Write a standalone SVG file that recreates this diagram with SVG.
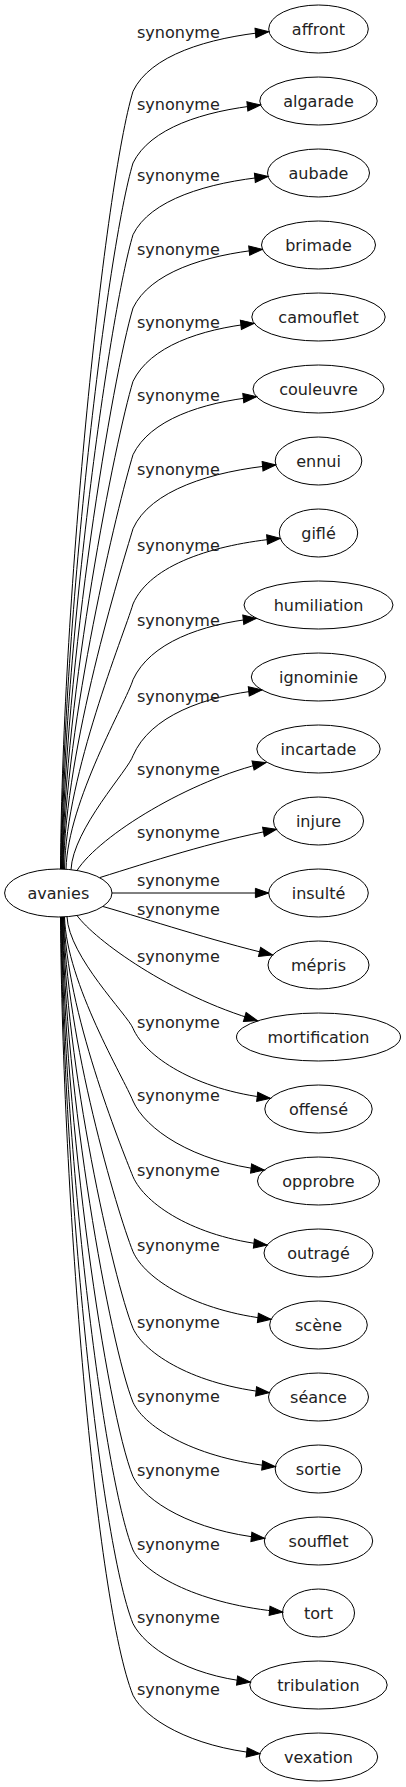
<svg xmlns="http://www.w3.org/2000/svg" width="406" height="1787" viewBox="0 0 406 1787">
<style>
.n ellipse{fill:none;stroke:#000;stroke-width:1}
.n text{font-family:"DejaVu Sans",sans-serif;font-size:16px;fill:#222;text-anchor:middle}
.e path{fill:none;stroke:#000;stroke-width:1;marker-end:url(#ah)}
.e path.l{marker-end:none}
.lb text{font-family:"DejaVu Sans",sans-serif;font-size:16px;fill:#222;text-anchor:middle}
</style>
<defs>
<marker id="ah" markerUnits="userSpaceOnUse" viewBox="-1 -1 16 12" markerWidth="16" markerHeight="12" refX="13.3" refY="5" orient="auto">
<path d="M0,0.33 L13.3,5 L0,9.67 z" fill="#000" stroke="#000" stroke-width="1"/>
</marker>
</defs>
<rect width="406" height="1787" fill="#fff"/>
<g id="connectors" class="e">
<path d="M60.5,869 C62.5,589 105,184.6 133,91.3 C150,55.5 207.6,37.7 268.7,31.7"/>
<path d="M61,869 C63,614.8 107.6,247.7 133,163 C150,128.2 203.2,111 260.6,105"/>
<path d="M61.5,869 C63.5,640.7 110.2,310.8 133,234.7 C150,199.8 207.3,182.5 268.1,176.5"/>
<path d="M62,869 C64,667 112.8,375.3 133,308 C150,272.8 204.1,255.3 262.4,249.3"/>
<path d="M62.5,869 C64.5,693.4 115.4,439.8 133,381.3 C150,346.5 199.6,329.3 254.1,323.3"/>
<path d="M63,869 C65,719.9 118.1,504.4 133,454.7 C150,419.9 200.9,402.7 256.5,396.7"/>
<path d="M63.5,869 C65.5,746.5 120.8,569.5 133,528.7 C150,490.5 211.6,471 275.8,465"/>
<path d="M64.5,869 C66.5,773.6 123.5,635.8 133,604 C150,564.6 214,544.3 280.3,538.3"/>
<path d="M66,869 C68,800.9 126.2,702.4 133,679.7 C150,642.9 200.9,624.3 256.5,618.3"/>
<path d="M71,869.7 C73,828.7 128.9,769.4 133,755.7 C150,716.3 203.9,696 262,690"/>
<path d="M77,870.5 C100,835 190,780 266,762.5"/>
<path d="M100,877.5 C150,862 210,842 276.5,829.3"/>
<path d="M112,893 L268.7,893"/>
<path d="M103,906.5 C150,920 210,940 272.5,955"/>
<path d="M77,915.5 C95,940 170,995 257.5,1020.7"/>
<path d="M67,916.7 C69,956.9 127.6,1014.9 133,1028.3 C145,1056.3 194.8,1089.9 270.4,1098.3"/>
<path d="M64.5,917 C66.5,983.2 124.2,1078.9 133,1101 C145,1128.6 192.1,1161.7 264.3,1170"/>
<path d="M64,917 C66,1010.5 120.5,1145.5 133,1176.7 C145,1204 193.3,1236.8 267.1,1245"/>
<path d="M63.5,917 C65.5,1037.5 116.9,1211.5 133,1251.7 C145,1278.7 195.1,1311.2 271.1,1319.3"/>
<path d="M63,917 C65,1065.1 113.2,1278.9 133,1328.3 C145,1354.1 194.3,1385 269.3,1392.7"/>
<path d="M62.5,917 C64.5,1091.7 109.7,1344.1 133,1402.3 C145,1428.1 197.1,1459 275.4,1466.7"/>
<path d="M62,917 C64,1118.5 106.1,1409.5 133,1476.7 C145,1501.3 192.2,1530.9 264.6,1538.3"/>
<path d="M61.5,917 C63.5,1144.9 102.6,1474 133,1550 C145,1574.8 200.4,1604.6 282.8,1612"/>
<path d="M61,917 C63,1171.4 99.1,1538.9 133,1623.7 C145,1647 185.8,1675 250.3,1682"/>
<path d="M60.5,917 C62.5,1197.2 95.6,1601.9 133,1695.3 C145,1718.7 190,1746.7 259.9,1753.7"/>
</g>
<g id="edge-labels" class="lb">
<text x="178.4" y="37.8">synonyme</text>
<text x="178.4" y="109.5">synonyme</text>
<text x="178.4" y="181.2">synonyme</text>
<text x="178.4" y="254.5">synonyme</text>
<text x="178.4" y="327.8">synonyme</text>
<text x="178.4" y="401.2">synonyme</text>
<text x="178.4" y="475.2">synonyme</text>
<text x="178.4" y="550.5">synonyme</text>
<text x="178.4" y="626.2">synonyme</text>
<text x="178.4" y="702.2">synonyme</text>
<text x="178.4" y="774.5">synonyme</text>
<text x="178.4" y="837.8">synonyme</text>
<text x="178.4" y="886.2">synonyme</text>
<text x="178.4" y="914.5">synonyme</text>
<text x="178.4" y="962.2">synonyme</text>
<text x="178.4" y="1027.8">synonyme</text>
<text x="178.4" y="1100.5">synonyme</text>
<text x="178.4" y="1176.2">synonyme</text>
<text x="178.4" y="1251.2">synonyme</text>
<text x="178.4" y="1327.8">synonyme</text>
<text x="178.4" y="1401.8">synonyme</text>
<text x="178.4" y="1476.2">synonyme</text>
<text x="178.4" y="1549.5">synonyme</text>
<text x="178.4" y="1623.2">synonyme</text>
<text x="178.4" y="1694.8">synonyme</text>
</g>
<g id="avanies" class="n"><ellipse cx="58.3" cy="893" rx="53.7" ry="24"/><text x="58.3" y="898.5">avanies</text></g>
<g id="affront" class="n"><ellipse cx="318.5" cy="29" rx="49.8" ry="24"/><text x="318.5" y="34.5">affront</text></g>
<g id="algarade" class="n"><ellipse cx="318.5" cy="101" rx="58.7" ry="24"/><text x="318.5" y="106.5">algarade</text></g>
<g id="aubade" class="n"><ellipse cx="318.5" cy="173" rx="51" ry="24"/><text x="318.5" y="178.5">aubade</text></g>
<g id="brimade" class="n"><ellipse cx="318.5" cy="245" rx="57" ry="24"/><text x="318.5" y="250.5">brimade</text></g>
<g id="camouflet" class="n"><ellipse cx="318.5" cy="317" rx="66.7" ry="24"/><text x="318.5" y="322.5">camouflet</text></g>
<g id="couleuvre" class="n"><ellipse cx="318.5" cy="389" rx="65.5" ry="24"/><text x="318.5" y="394.5">couleuvre</text></g>
<g id="ennui" class="n"><ellipse cx="318.5" cy="461" rx="43.3" ry="24"/><text x="318.5" y="466.5">ennui</text></g>
<g id="gifle" class="n"><ellipse cx="318.5" cy="533" rx="39.2" ry="24"/><text x="318.5" y="538.5">giflé</text></g>
<g id="humiliation" class="n"><ellipse cx="318.5" cy="605" rx="74.5" ry="24"/><text x="318.5" y="610.5">humiliation</text></g>
<g id="ignominie" class="n"><ellipse cx="318.5" cy="677" rx="67.2" ry="24"/><text x="318.5" y="682.5">ignominie</text></g>
<g id="incartade" class="n"><ellipse cx="318.5" cy="749" rx="61.7" ry="24"/><text x="318.5" y="754.5">incartade</text></g>
<g id="injure" class="n"><ellipse cx="318.5" cy="821" rx="45" ry="24"/><text x="318.5" y="826.5">injure</text></g>
<g id="insulte" class="n"><ellipse cx="318.5" cy="893" rx="49.8" ry="24"/><text x="318.5" y="898.5">insulté</text></g>
<g id="mepris" class="n"><ellipse cx="318.5" cy="965" rx="50.5" ry="24"/><text x="318.5" y="970.5">mépris</text></g>
<g id="mortification" class="n"><ellipse cx="318.5" cy="1037" rx="82" ry="24"/><text x="318.5" y="1042.5">mortification</text></g>
<g id="offense" class="n"><ellipse cx="318.5" cy="1109" rx="53.7" ry="24"/><text x="318.5" y="1114.5">offensé</text></g>
<g id="opprobre" class="n"><ellipse cx="318.5" cy="1181" rx="61" ry="24"/><text x="318.5" y="1186.5">opprobre</text></g>
<g id="outrage" class="n"><ellipse cx="318.5" cy="1253" rx="54.5" ry="24"/><text x="318.5" y="1258.5">outragé</text></g>
<g id="scene" class="n"><ellipse cx="318.5" cy="1325" rx="48.8" ry="24"/><text x="318.5" y="1330.5">scène</text></g>
<g id="seance" class="n"><ellipse cx="318.5" cy="1397" rx="50" ry="24"/><text x="318.5" y="1402.5">séance</text></g>
<g id="sortie" class="n"><ellipse cx="318.5" cy="1469" rx="43.3" ry="24"/><text x="318.5" y="1474.5">sortie</text></g>
<g id="soufflet" class="n"><ellipse cx="318.5" cy="1541" rx="54.2" ry="24"/><text x="318.5" y="1546.5">soufflet</text></g>
<g id="tort" class="n"><ellipse cx="318.5" cy="1613" rx="36" ry="24"/><text x="318.5" y="1618.5">tort</text></g>
<g id="tribulation" class="n"><ellipse cx="318.5" cy="1685" rx="68.7" ry="24"/><text x="318.5" y="1690.5">tribulation</text></g>
<g id="vexation" class="n"><ellipse cx="318.5" cy="1757" rx="59.2" ry="24"/><text x="318.5" y="1762.5">vexation</text></g>
</svg>
